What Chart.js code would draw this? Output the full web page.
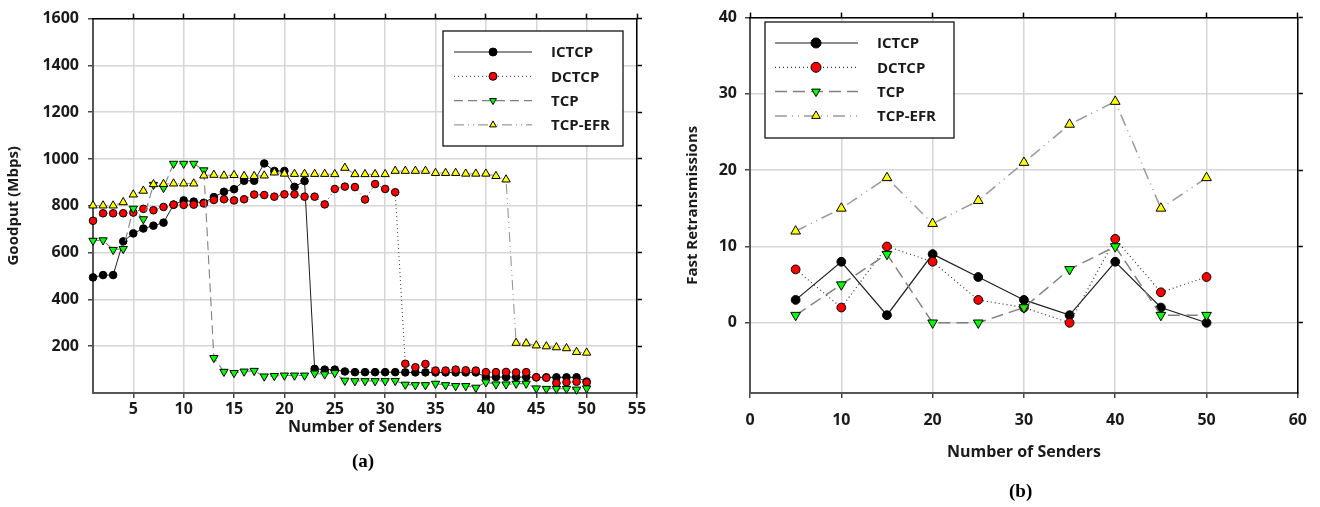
<!DOCTYPE html>
<html>
<head>
<meta charset="utf-8">
<script src="https://cdn.jsdelivr.net/npm/chart.js@4.4.0/dist/chart.umd.min.js"></script>
<style>
  body { margin: 0; background: #fff; width: 1320px; height: 507px; position: relative; overflow: hidden; }
  canvas { position: absolute; top: 0; }
  #goodput { left: 0; }
  #fastrtx { left: 660px; }
  .cap { position: absolute; font: bold 19px "Liberation Serif", serif; color: #000; }
</style>
</head>
<body>
<canvas id="goodput" width="660" height="507"></canvas>
<canvas id="fastrtx" width="660" height="507"></canvas>
<div class="cap" style="left:352px;top:450px">(a)</div>
<div class="cap" style="left:1009px;top:480px">(b)</div>
<script>
// (a) goodput vs number of senders
const senders = [1, 2, 3, 4, 5, 6, 7, 8, 9, 10, 11, 12, 13, 14, 15, 16, 17, 18, 19, 20,
  21, 22, 23, 24, 25, 26, 27, 28, 29, 30, 31, 32, 33, 34, 35, 36, 37, 38, 39, 40,
  41, 42, 43, 44, 45, 46, 47, 48, 49, 50];
const goodIctcp = [494, 504, 504, 648, 682, 703, 715, 728, 805, 823, 818, 813, 837, 860, 871, 907, 907, 981, 949, 949,
  881, 906, 103, 100, 100, 92, 89, 89, 89, 89, 89, 88, 88, 88, 88, 88, 88, 88, 88, 68,
  68, 68, 68, 68, 67, 67, 67, 67, 67, 49];
const goodDctcp = [736, 768, 768, 768, 771, 787, 781, 795, 805, 804, 805, 810, 825, 828, 823, 828, 848, 846, 839, 849,
  849, 839, 839, 806, 872, 882, 880, 827, 893, 872, 858, 125, 110, 124, 96, 96, 100, 97, 96, 89,
  89, 90, 88, 89, 67, 65, 42, 46, 48, 45];
const goodTcp = [651, 653, 612, 616, 788, 743, 890, 877, 980, 980, 980, 952, 150, 91, 86, 92, 95, 71, 73, 75,
  75, 75, 84, 80, 86, 53, 51, 51, 51, 51, 52, 36, 34, 34, 40, 34, 30, 30, 23, 46,
  37, 37, 40, 40, 20, 18, 18, 18, 15, 20];
const goodEfr = [801, 801, 801, 815, 848, 864, 892, 893, 895, 895, 895, 929, 932, 929, 931, 927, 927, 929, 942, 937,
  936, 936, 936, 936, 935, 962, 935, 935, 935, 935, 949, 949, 949, 949, 940, 940, 940, 937, 937, 937,
  927, 912, 214, 212, 203, 199, 195, 191, 175, 172];
const goodTicksX = [5, 10, 15, 20, 25, 30, 35, 40, 45, 50, 55];
const goodTicksY = [200, 400, 600, 800, 1000, 1200, 1400, 1600];

// (b) fast retransmissions vs number of senders
const senders2 = [5, 10, 15, 20, 25, 30, 35, 40, 45, 50];
const frIctcp = [3, 8, 1, 9, 6, 3, 1, 8, 2, 0];
const frDctcp = [7, 2, 10, 8, 3, 2, 0, 11, 4, 6];
const frTcp = [1, 5, 9, 0, 0, 2, 7, 10, 1, 1];
const frEfr = [12, 15, 19, 13, 16, 21, 26, 29, 15, 19];
const frTicksX = [0, 10, 20, 30, 40, 50, 60];
const frTicksY = [0, 10, 20, 30, 40];

const seriesNames = ['ICTCP', 'DCTCP', 'TCP', 'TCP-EFR'];

const FONT = '"Open Sans", Lato, sans-serif';
Chart.defaults.font.family = FONT;
Chart.defaults.font.weight = 'bold';
Chart.defaults.color = '#1a1a1a';

// series look: line, marker
function looks(big) {
  return [
    { color: '#1e1e1e', dash: [], width: big ? 1.2 : 1, fill: '#000000', shape: 'circle', rot: 0, r: big ? 4.4 : 3.8 },
    { color: '#333333', dash: [1, 3], width: big ? 1.2 : 1, fill: '#ff0000', shape: 'circle', rot: 0, r: big ? 4.4 : 3.8 },
    { color: '#808080', dash: big ? [12, 6] : [9, 5], width: big ? 1.5 : 1.1, fill: '#00ff00', shape: 'triangle', rot: 180, r: big ? 5.6 : 4.8 },
    { color: '#999999', dash: big ? [12, 5, 1, 5, 1, 5] : [10, 4, 1, 4, 1, 4], width: big ? 1.5 : 1.1, fill: '#ffff00', shape: 'triangle', rot: 0, r: big ? 5.6 : 4.8 }
  ];
}

function makeDatasets(xs, series, big) {
  const st = looks(big);
  return series.map((ys, i) => ({
    label: seriesNames[i],
    data: xs.map((x, j) => ({ x: x, y: ys[j] })),
    xAxisID: 'x',
    yAxisID: 'y',
    order: 4 - i,
    borderColor: st[i].color,
    borderDash: st[i].dash,
    borderWidth: st[i].width,
    pointStyle: st[i].shape,
    pointRotation: st[i].rot,
    pointRadius: st[i].r,
    pointBackgroundColor: st[i].fill,
    pointBorderColor: '#000',
    pointBorderWidth: 1,
    tension: 0,
    clip: false,
    fill: false
  }));
}

function pickTicks(list) {
  return function (scale) { scale.ticks = list.map(v => ({ value: v })); };
}

// legend box with line + marker samples
const legendBox = {
  id: 'legendBox',
  afterDatasetsDraw(chart, args, o) {
    const ctx = chart.ctx;
    ctx.save();
    ctx.fillStyle = '#fff';
    ctx.fillRect(o.x, o.y, o.w, o.h);
    ctx.strokeStyle = '#000';
    ctx.lineWidth = 1.2;
    ctx.strokeRect(o.x, o.y, o.w, o.h);
    chart.data.datasets.forEach((ds, i) => {
      const yy = o.y + o.first + i * o.step;
      ctx.beginPath();
      ctx.setLineDash(ds.borderDash);
      ctx.strokeStyle = ds.borderColor;
      ctx.lineWidth = ds.borderWidth;
      ctx.moveTo(o.x1, yy);
      ctx.lineTo(o.x2, yy);
      ctx.stroke();
      ctx.setLineDash([]);
      ctx.fillStyle = ds.pointBackgroundColor;
      ctx.strokeStyle = '#000';
      ctx.lineWidth = 1;
      Chart.helpers.drawPoint(ctx, { pointStyle: ds.pointStyle, rotation: ds.pointRotation, radius: o.r, borderWidth: 1 }, o.xm, yy);
      ctx.fillStyle = '#1a1a1a';
      ctx.font = 'bold 15px ' + FONT;
      ctx.textBaseline = 'middle';
      ctx.fillText(ds.label, o.xt, yy + 1);
    });
    ctx.restore();
  }
};

function makeChart(id, o) {
  const grid = { color: '#d6d6d6', lineWidth: 1.5, tickColor: '#444', tickLength: o.tick, tickWidth: 1.5 };
  const tickFont = { family: FONT, size: 16, weight: 'bold' };
  return new Chart(document.getElementById(id), {
    type: 'line',
    data: { datasets: makeDatasets(o.xs, o.series, o.big) },
    plugins: [legendBox],
    options: {
      responsive: false,
      animation: false,
      layout: { padding: 0 },
      plugins: { legend: { display: false }, tooltip: { enabled: false }, legendBox: o.legend },
      scales: {
        x: {
          type: 'linear', position: 'bottom', min: o.xmin, max: o.xmax,
          afterBuildTicks: pickTicks(o.xticks),
          afterFit: s => { s.height = 114; },
          grid: grid,
          border: { color: '#555', width: 2 },
          ticks: { font: tickFont, padding: o.xpad, maxRotation: 0, autoSkip: false, callback: v => String(v) },
          title: { display: true, text: 'Number of Senders', font: tickFont, padding: { top: 0, bottom: o.xtitlePad } }
        },
        y: {
          type: 'linear', position: 'left', min: o.ymin, max: o.ymax,
          afterBuildTicks: pickTicks(o.yticks),
          afterFit: s => { s.width = o.leftW; },
          grid: grid,
          border: { color: '#555', width: 2 },
          ticks: { font: tickFont, padding: o.ypad, callback: v => String(v) },
          title: { display: true, text: o.ytitle, font: { family: FONT, size: 15, weight: 'bold' }, padding: { top: o.ytitlePad, bottom: 0 } }
        },
        x2: {
          type: 'linear', position: 'top', min: o.xmin, max: o.xmax,
          afterBuildTicks: pickTicks(o.xticks),
          afterFit: s => { s.height = o.topH; },
          grid: { drawOnChartArea: false, tickColor: '#000', tickLength: 5, tickWidth: 1.5 },
          border: { color: '#000', width: 1.5 },
          ticks: { display: false }
        },
        y2: {
          type: 'linear', position: 'right', min: o.ymin, max: o.ymax,
          afterBuildTicks: pickTicks(o.yticks),
          afterFit: s => { s.width = o.rightW; },
          grid: { drawOnChartArea: false, tickColor: '#000', tickLength: 5, tickWidth: 1.5 },
          border: { color: '#000', width: 1.5 },
          ticks: { display: false }
        }
      }
    }
  });
}

makeChart('goodput', {
  xs: senders, series: [goodIctcp, goodDctcp, goodTcp, goodEfr], big: false,
  xmin: 1, xmax: 55, xticks: goodTicksX, ymin: 0, ymax: 1600, yticks: goodTicksY,
  ytitle: 'Goodput (Mbps)', leftW: 93, rightW: 23, topH: 14, tick: 5,
  xpad: 2, ypad: 9, xtitlePad: 70, ytitlePad: 5,
  legend: { x: 443, y: 31, w: 180, h: 115, first: 21, step: 24.3, x1: 454, x2: 532, xm: 493, xt: 551, r: 4 }
});

makeChart('fastrtx', {
  xs: senders2, series: [frIctcp, frDctcp, frTcp, frEfr], big: true,
  xmin: 0, xmax: 60, xticks: frTicksX, ymin: -9.2, ymax: 40, yticks: frTicksY,
  ytitle: 'Fast Retransmissions', leftW: 90, rightW: 22, topH: 12, tick: 5,
  xpad: 13, ypad: 8, xtitlePad: 45, ytitlePad: 24,
  legend: { x: 105, y: 22, w: 189, h: 116, first: 21, step: 24.3, x1: 115, x2: 198, xm: 156, xt: 217, r: 5 }
});
</script>
</body>
</html>
